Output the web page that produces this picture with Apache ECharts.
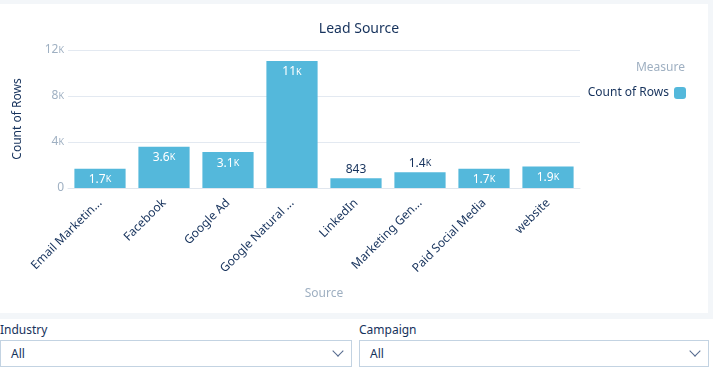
<!DOCTYPE html>
<html><head><meta charset="utf-8">
<script src="https://cdn.jsdelivr.net/npm/echarts@6/dist/echarts.min.js"></script>
<style>
html,body{margin:0;padding:0;width:713px;height:370px;overflow:hidden;background:#f3f6f9;font-family:"Noto Sans","Open Sans",sans-serif;}
#card{position:absolute;left:0;top:4px;width:708px;height:309px;background:#fff;}
#filters{position:absolute;left:0;top:319px;width:713px;height:51px;background:#fff;}
#chart{position:absolute;left:0;top:0;width:713px;height:370px;}
.flt{position:absolute;top:0;}
.flt .lab{font-size:12px;color:#16325c;height:22px;line-height:22px;}
.flt .box{position:absolute;top:21px;left:0;height:27px;border:1px solid #c3d3e2;box-sizing:border-box;background:#fff;font-size:12px;color:#16325c;line-height:25px;padding-left:10px;}
.chev{position:absolute;right:9px;width:7px;height:7px;border-right:1.3px solid #54698d;border-bottom:1.3px solid #54698d;transform:rotate(45deg);top:6px;}
</style></head>
<body>
<div id="card"></div>
<div id="filters">
  <div class="flt" style="left:0;width:352px"><div class="lab">Industry</div><div class="box" style="width:352px">All<span class="chev"></span></div></div>
  <div class="flt" style="left:359px;width:350px"><div class="lab">Campaign</div><div class="box" style="width:350px">All<span class="chev"></span></div></div>
</div>
<div id="chart"></div>
<script>
const categories = ["Email Marketin...", "Facebook", "Google Ad", "Google Natural ...", "LinkedIn", "Marketing Gen...", "Paid Social Media", "website"];
const counts = [1680, 3580, 3120, 11040, 843, 1380, 1680, 1870];
const yTicks = ["0", "4K", "8K", "12K"];
const labelInside = [true, true, true, true, false, false, true, true];

function fmt(v){
  if (v < 1000) return String(v);
  const k = v / 1000;
  const s = k >= 10 ? String(Math.round(k)) : k.toFixed(1);
  return s + 'K';
}
function richK(str, style){
  if (str.endsWith('K')) return '{' + style + '|' + str.slice(0, -1) + '}{' + style + 'k|K}';
  return '{' + style + '|' + str + '}';
}

const chart = echarts.init(document.getElementById('chart'), null, {renderer: 'canvas'});
const dark = '#16325c', gray = '#9fb0c2';
const font = '"Noto Sans","Open Sans",sans-serif';

chart.setOption({
  backgroundColor: 'transparent',
  animation: false,
  textStyle: {fontFamily: font},
  title: [
    {text: 'Lead Source', left: 354, top: 17, textAlign: 'center',
     textStyle: {fontSize: 14, fontWeight: 'normal', color: dark, fontFamily: font}},
    {text: 'Measure', right: 23, top: 57,
     textStyle: {fontSize: 12, fontWeight: 'normal', color: gray, fontFamily: font}}
  ],
  legend: {
    right: 22, top: 82, align: 'right', itemWidth: 12, itemHeight: 12, itemGap: 8,
    icon: 'roundRect',
    textStyle: {fontSize: 12, color: dark, fontFamily: font},
    data: ['Count of Rows']
  },
  grid: {left: 68, right: 133, top: 50, bottom: 182, containLabel: false},
  xAxis: {
    type: 'category', data: categories,
    name: 'Source', nameLocation: 'middle', nameGap: 100,
    nameTextStyle: {color: gray, fontSize: 12, fontFamily: font},
    axisLine: {show: true, lineStyle: {color: '#e0e6ee'}},
    axisTick: {show: false},
    axisLabel: {rotate: 45, margin: 13, fontSize: 12, color: dark, fontFamily: font, interval: 0}
  },
  yAxis: {
    type: 'value', min: 0, max: 12000, interval: 4000,
    name: 'Count of Rows', nameLocation: 'middle', nameGap: 44, nameRotate: 90,
    nameTextStyle: {color: dark, fontSize: 12, fontFamily: font},
    axisLine: {show: false}, axisTick: {show: false},
    splitLine: {lineStyle: {color: '#e3e9f1'}},
    axisLabel: {
      margin: 4,
      formatter: function(v){ return richK(yTicks[Math.round(v / 4000)], 't'); },
      rich: {
        t: {fontSize: 12, color: gray, fontFamily: font},
        tk: {fontSize: 9, color: gray, fontFamily: font}
      }
    }
  },
  series: [{
    name: 'Count of Rows', type: 'bar',
    barCategoryGap: '20%',
    itemStyle: {color: '#54b8db'},
    data: counts.map(function(v, i){
      return {
        value: v,
        label: labelInside[i]
          ? {show: true, position: 'insideTop', distance: 5,
             formatter: function(p){ return richK(fmt(p.value), 'w'); }}
          : {show: true, position: 'top', distance: 3,
             formatter: function(p){ return richK(fmt(p.value), 'd'); }}
      };
    }),
    label: {
      rich: {
        w: {fontSize: 12, color: '#ffffff', fontFamily: font},
        wk: {fontSize: 9, color: '#ffffff', fontFamily: font},
        d: {fontSize: 12, color: dark, fontFamily: font},
        dk: {fontSize: 9, color: dark, fontFamily: font}
      }
    }
  }]
});
</script>
</body></html>
